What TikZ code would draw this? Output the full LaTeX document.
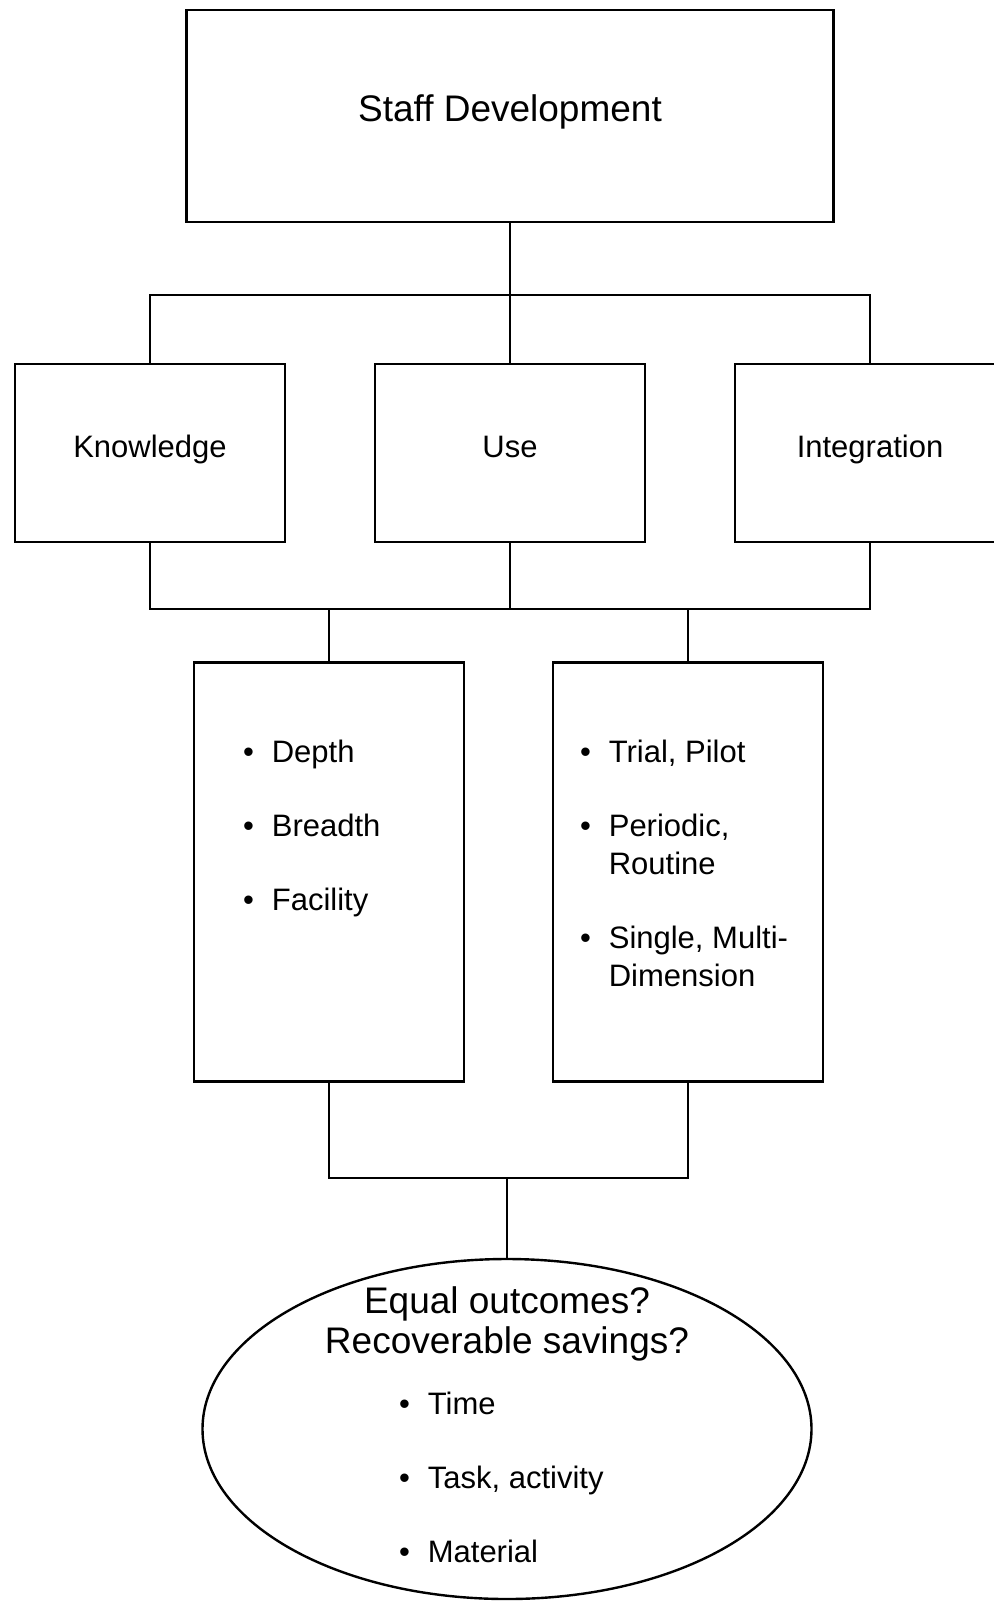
\documentclass[tikz,border=0pt]{standalone}
\usepackage{fontspec}
\setmainfont{Liberation Sans}
\usetikzlibrary{shapes.geometric}
\tikzset{box/.style={draw,line width=1.2pt,minimum width=135pt,minimum height=89pt,text height=11.5pt,text depth=7pt,font=\fontsize{15.5}{19}\selectfont},
list/.style={anchor=base west,inner sep=0pt,font=\fontsize{15.5}{19}\selectfont}}

\begin{document}
\begin{tikzpicture}[x=0.5pt,y=-0.5pt,node distance=180pt,line width=1pt]
\useasboundingbox(0,0)rectangle(994,1602);
\node[box,minimum width=323.5pt,minimum height=106pt,text height=13.5pt,text depth=8pt,font=\fontsize{18.5}{22}\selectfont](staff)at(510,116){Staff Development};
\node[box](use)at(510,453){Use};
\node[box,left of=use](know){Knowledge};
\node[box,right of=use](integ){Integration};
\node[box,minimum height=209.5pt](depth)at(329,872){};
\node[box,minimum height=209.5pt](trial)at(688,872){};
\node[draw,ellipse,line width=1.2pt,minimum width=304.5pt,minimum height=170pt](outcome)at(507,1429){};
% bullet lists
\node[list](depthlist)at(242,762){\begin{tabular}[t]{@{}l@{\hspace{9pt}}l@{}}\textbullet&Depth\\[18pt]\textbullet&Breadth\\[18pt]\textbullet&Facility\end{tabular}};
\node[list](triallist)at(579,762){\begin{tabular}[t]{@{}l@{\hspace{9pt}}l@{}}\textbullet&Trial, Pilot\\[18pt]\textbullet&Periodic,\\&Routine\\[18pt]\textbullet&Single, Multi-\\&Dimension\end{tabular}};
\node[anchor=base,inner sep=0pt,font=\fontsize{18.5}{20}\selectfont](question)at(507,1313){\begin{tabular}[t]{@{}c@{}}Equal outcomes?\\Recoverable savings?\end{tabular}};
\node[list](savelist)at(398,1414){\begin{tabular}[t]{@{}l@{\hspace{9pt}}l@{}}\textbullet&Time\\[18pt]\textbullet&Task, activity\\[18pt]\textbullet&Material\end{tabular}};
% connectors
\coordinate(topbus)at(510,295);
\coordinate(midbus)at(510,609);
\coordinate(lowbus)at(507,1178);
\draw(staff)--(use)(know)|-(topbus)-|(integ);
\draw(know)|-(midbus)-|(integ)(use)--(midbus);
\draw(depth)--(depth|-midbus)(trial)--(trial|-midbus);
\draw(depth)|-(lowbus)-|(trial)(lowbus)--(outcome);
\end{tikzpicture}
\end{document}
